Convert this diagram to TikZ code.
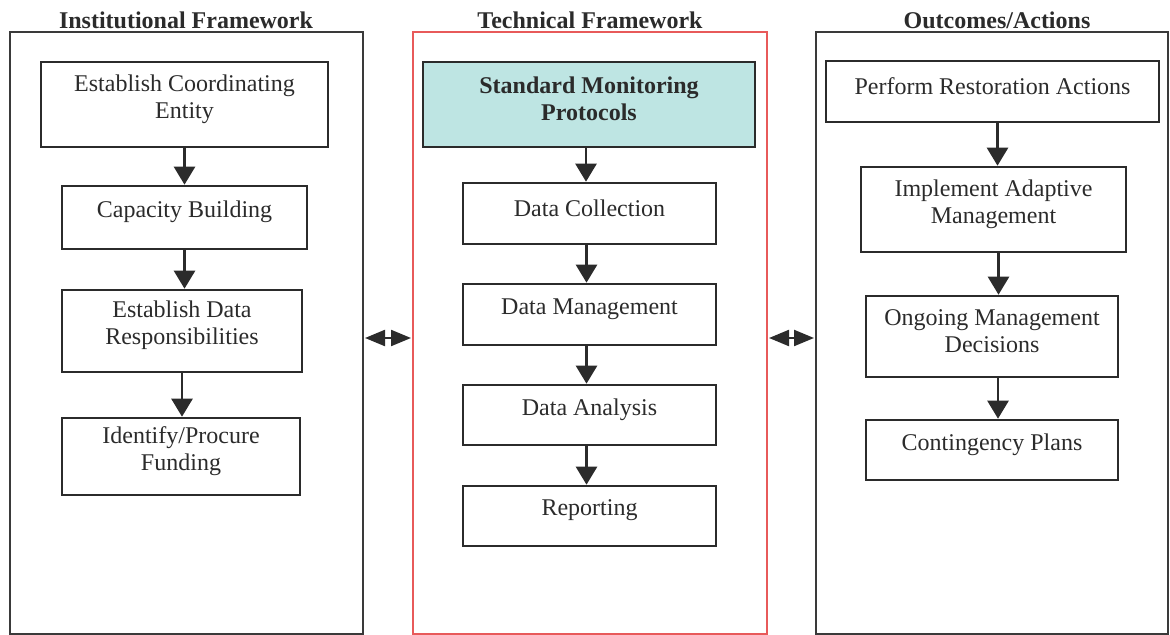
\documentclass[tikz,border=0pt]{standalone}
\usepackage{fontspec}
\setmainfont{Liberation Serif}
\usetikzlibrary{arrows.meta}
\definecolor{ink}{HTML}{2B2B2B}
\definecolor{frame}{HTML}{3A3A3A}
\definecolor{redframe}{HTML}{E85A5A}
\definecolor{teal}{HTML}{BEE5E3}
\tikzset{
  panel/.style={draw=frame, line width=1pt, inner sep=0pt},
  stepbox/.style={draw=ink, line width=1.3pt, inner sep=0pt},
  boxtext/.style={align=center, text=ink, font=\fontsize{12}{13.5}\selectfont, inner sep=0pt},
  says/.style={label={[boxtext, yshift=2.8pt]center:#1}},
  boldsays/.style={label={[boxtext, font=\bfseries\fontsize{12}{13.5}\selectfont, yshift=2.8pt]center:#1}},
  header/.style={font=\bfseries\fontsize{12}{13.5}\selectfont, text=ink, anchor=base, inner sep=0pt},
  flow/.style={draw=ink, line width=1.3pt, -{Triangle[width=10.5pt,length=9pt]}},
  link/.style={draw=ink, line width=1.1pt, {Triangle[width=8pt,length=10pt]}-{Triangle[width=8pt,length=10pt]}, shorten <=0.5pt, shorten >=0.5pt}
}
\begin{document}
\begin{tikzpicture}[x=0.5pt, y=-0.5pt]
\useasboundingbox (0,0) rectangle (1170,635);

% three column frames
\node[panel, minimum width=176.5pt, minimum height=301pt] (OL) at (186.5,333) {};
\node[panel, draw=redframe, minimum width=177pt, minimum height=301pt] (OM) at (590,333) {};
\node[panel, minimum width=176pt, minimum height=301pt] (OR) at (992,333) {};

% column headings
\node[header] (HL) at (186,29) {Institutional Framework};
\node[header] (HM) at (590,29) {Technical Framework};
\node[header] (HR) at (997,29) {Outcomes/Actions};

% institutional framework
\node[stepbox, minimum width=143.5pt, minimum height=42.5pt, says={Establish Coordinating\\Entity}] (L1) at (184.5,104.5) {};
\node[stepbox, minimum width=122.5pt, minimum height=31.5pt, says={Capacity Building}] (L2) at (184.5,217.5) {};
\node[stepbox, minimum width=120pt, minimum height=41pt, says={Establish Data\\Responsibilities}] (L3) at (182,331) {};
\node[stepbox, minimum width=119pt, minimum height=38.5pt, says={Identify/Procure\\Funding}] (L4) at (181,456.5) {};

% technical framework
\node[stepbox, fill=teal, minimum width=166pt, minimum height=42.5pt, boldsays={Standard Monitoring\\Protocols}] (M0) at (589,104.5) {};
\node[stepbox, minimum width=126.5pt, minimum height=30.5pt, says={Data Collection}] (M1) at (589.5,213.5) {};
\node[stepbox, minimum width=126.5pt, minimum height=30.5pt, says={Data Management}] (M2) at (589.5,314.5) {};
\node[stepbox, minimum width=126.5pt, minimum height=30pt, says={Data Analysis}] (M3) at (589.5,415) {};
\node[stepbox, minimum width=126.5pt, minimum height=30pt, says={Reporting}] (M4) at (589.5,516) {};

% outcomes / actions
\node[stepbox, minimum width=166.5pt, minimum height=30.5pt, says={Perform Restoration Actions}] (R1) at (992.5,91.5) {};
\node[stepbox, minimum width=132.5pt, minimum height=42.5pt, says={Implement Adaptive\\Management}] (R2) at (993.5,209.5) {};
\node[stepbox, minimum width=126pt, minimum height=40.5pt, says={Ongoing Management\\Decisions}] (R3) at (992,336.5) {};
\node[stepbox, minimum width=126pt, minimum height=30pt, says={Contingency Plans}] (R4) at (992,450) {};

% vertical flows
\draw[flow] (L1.south) -- (L1.south |- L2.north);
\draw[flow] (L2.south) -- (L2.south |- L3.north);
\draw[flow] (L3.south) -- (L3.south |- L4.north);
\draw[flow] ([xshift=-1.5pt]M0.south) -- ([xshift=-1.5pt]M0.south |- M1.north);
\draw[flow] ([xshift=-1.5pt]M1.south) -- ([xshift=-1.5pt]M1.south |- M2.north);
\draw[flow] ([xshift=-1.5pt]M2.south) -- ([xshift=-1.5pt]M2.south |- M3.north);
\draw[flow] ([xshift=-1.5pt]M3.south) -- ([xshift=-1.5pt]M3.south |- M4.north);
\draw[flow] ([xshift=2.5pt]R1.south) -- ([xshift=2.5pt]R1.south |- R2.north);
\draw[flow] ([xshift=2.5pt]R2.south) -- ([xshift=2.5pt]R2.south |- R3.north);
\draw[flow] ([xshift=3pt]R3.south) -- ([xshift=3pt]R3.south |- R4.north);

% links between the frameworks
\draw[link] ([yshift=-2.5pt]OL.east) -- ([yshift=-2.5pt]OM.west);
\draw[link] ([yshift=-2.5pt]OM.east) -- ([yshift=-2.5pt]OR.west);
\end{tikzpicture}
\end{document}
